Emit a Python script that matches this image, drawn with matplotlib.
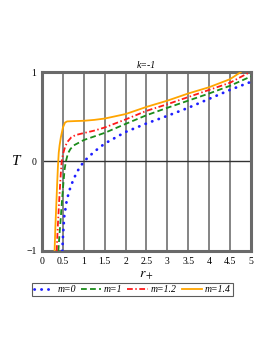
import matplotlib
matplotlib.use("Agg")
import matplotlib.pyplot as plt

# data
r_m0 = [0.485, 0.50, 0.53, 0.59, 0.65, 0.71, 0.83, 1.00, 1.25, 1.50, 2.00, 2.50, 3.00, 3.50, 4.00, 4.50, 5.00]
T_m0 = [-1.0, -0.85, -0.62, -0.44, -0.33, -0.25, -0.12, 0.0, 0.11, 0.20, 0.33, 0.425, 0.51, 0.60, 0.70, 0.80, 0.89]

r_m1 = [0.39, 0.42, 0.45, 0.48, 0.51, 0.54, 0.57, 0.62, 0.68, 0.76, 1.00, 1.50, 2.00, 2.50, 3.00, 3.50, 4.00, 4.50, 5.00]
T_m1 = [-1.0, -0.8, -0.62, -0.42, -0.25, -0.09, 0.0, 0.09, 0.14, 0.18, 0.24, 0.32, 0.42, 0.517, 0.60, 0.68, 0.76, 0.846, 0.95]

r_m12 = [0.35, 0.38, 0.41, 0.44, 0.47, 0.50, 0.55, 0.60, 0.70, 0.80, 1.00, 1.25, 1.50, 2.00, 2.50, 3.00, 3.50, 4.00, 4.50, 4.98]
T_m12 = [-1.0, -0.7, -0.44, -0.2, 0.0, 0.08, 0.16, 0.215, 0.27, 0.295, 0.318, 0.345, 0.38, 0.47, 0.566, 0.64, 0.72, 0.80, 0.88, 1.0]

r_m14 = [0.30, 0.32, 0.34, 0.36, 0.38, 0.40, 0.42, 0.45, 0.50, 0.55, 0.60, 0.80, 1.00, 1.25, 1.50, 2.00, 2.50, 3.00, 3.50, 4.00, 4.50, 4.76]
T_m14 = [-1.0, -0.72, -0.5, -0.27, -0.06, 0.1, 0.18, 0.27, 0.38, 0.435, 0.448, 0.452, 0.455, 0.465, 0.48, 0.53, 0.61, 0.68, 0.76, 0.83, 0.92, 1.0]

labels = ["m=0", "m=1", "m=1.2", "m=1.4"]
colors = ["#1f1fff", "#1a8c1a", "#ff1a1a", "#ffa500"]
xticks = [0, 0.5, 1, 1.5, 2, 2.5, 3, 3.5, 4, 4.5, 5]
xticklabels = ["0", "0.5", "1", "1.5", "2", "2.5", "3", "3.5", "4", "4.5", "5"]
yticks = [-1, 0, 1]
yticklabels = ["\u22121", "0", "1"]

serif = "Liberation Serif"
plt.rcParams["mathtext.fontset"] = "stix"

fig = plt.figure(figsize=(2.73, 3.53), dpi=100)
ax = fig.add_axes([0.154, 0.289, 0.765, 0.507])

for xv in xticks[1:-1]:
    ax.axvline(xv, color="#6f6f6f", lw=1.2, zorder=1)
ax.axhline(0, color="#333333", lw=1.0, zorder=1)

styles = [
    dict(linestyle=(0, (0.1, 2.4)), lw=2.0, dash_capstyle="round"),
    dict(linestyle=(0, (3.2, 1.8)), lw=1.3),
    dict(linestyle=(0, (3.2, 1.4, 0.8, 1.4)), lw=1.3),
    dict(linestyle="-", lw=1.3),
]
data = [(r_m0, T_m0), (r_m1, T_m1), (r_m12, T_m12), (r_m14, T_m14)]
handles = []
for (rr, tt), c, st, lab in zip(data, colors, styles, labels):
    h, = ax.plot(rr, tt, color=c, label=lab, zorder=3, **st)
    handles.append(h)

ax.set_xlim(0, 5)
ax.set_ylim(-1, 1)
ax.set_xticks(xticks)
ax.set_xticklabels(xticklabels, fontfamily=serif, fontsize=7)
ax.set_yticks(yticks)
ax.set_yticklabels(yticklabels, fontfamily=serif, fontsize=7)
ax.tick_params(length=0, pad=4)
for s in ax.spines.values():
    s.set_color("#6a6a6a")
    s.set_linewidth(2.2)

ax.set_title("k=-1", fontfamily=serif, fontstyle="italic", fontsize=7, pad=3)
ax.set_xlabel(r"$r_+$", fontsize=10, labelpad=2)
ax.set_ylabel("T", fontfamily=serif, fontstyle="italic", fontsize=11, rotation=0, labelpad=4, va="center", ha="right")

leg = fig.legend(handles=handles, labels=labels, loc="center", bbox_to_anchor=(0.485, 0.18),
                 ncol=4, frameon=True, fancybox=False, edgecolor="#333333",
                 prop={"family": serif, "style": "italic", "size": 7},
                 handlelength=2.1, handletextpad=0.3, columnspacing=0.5, borderpad=0.2,
                 borderaxespad=0)
leg.get_frame().set_linewidth(0.8)

fig.savefig("out.png", dpi=100)
